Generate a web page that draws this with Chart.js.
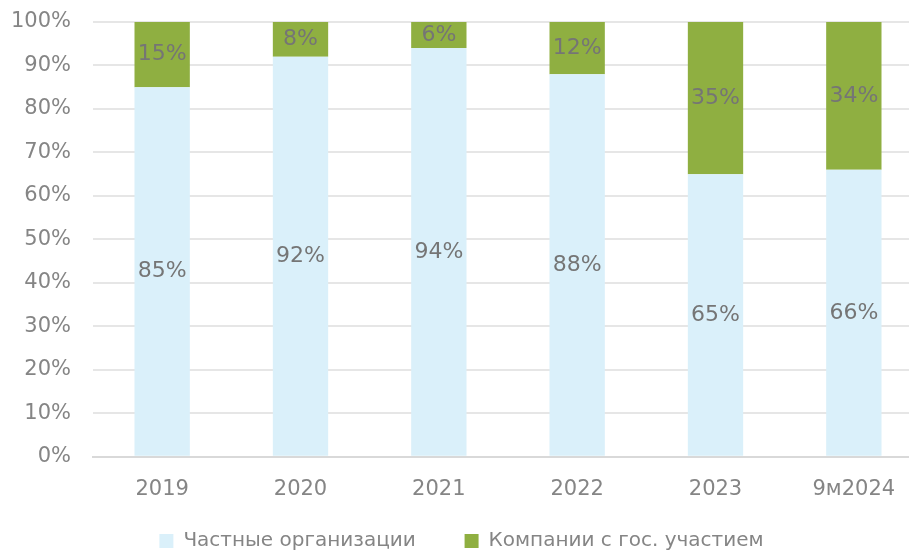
<!DOCTYPE html>
<html>
<head>
<meta charset="utf-8">
<script src="https://cdn.jsdelivr.net/npm/chart.js@4"></script>
<style>
  html, body { margin: 0; padding: 0; background: #fff; overflow: hidden; }
  #wrap { width: 923px; height: 561px; }
</style>
</head>
<body>
<div id="wrap"><canvas id="shareChart"></canvas></div>
<script>
var categories = ['2019', '2020', '2021', '2022', '2023', '9м2024'];
var privateShare = [85, 92, 94, 88, 65, 66];
var stateShare = [15, 8, 6, 12, 35, 34];
var seriesNames = ['Частные организации', 'Компании с гос. участием'];

var fontFamily = '"DejaVu Sans", sans-serif';

// подписи значений по центру сегментов
var valueLabels = {
    id: 'valueLabels',
    afterDatasetsDraw: function (chart) {
        var ctx = chart.ctx;
        ctx.save();
        ctx.font = '22px ' + fontFamily;
        ctx.fillStyle = '#757575';
        ctx.textAlign = 'center';
        ctx.textBaseline = 'middle';
        chart.data.datasets.forEach(function (ds, i) {
            chart.getDatasetMeta(i).data.forEach(function (bar, j) {
                var y = (bar.y + bar.base) / 2;
                ctx.fillText(ds.data[j] + '%', bar.x, y);
            });
        });
        ctx.restore();
    }
};

var shareChart = new Chart(document.getElementById('shareChart'), {
    type: 'bar',
    data: {
        labels: categories,
        datasets: [{
            label: seriesNames[0],
            data: privateShare,
            backgroundColor: '#daf0fa',
            barPercentage: 0.4,
            categoryPercentage: 1
        }, {
            label: seriesNames[1],
            data: stateShare,
            backgroundColor: '#8faf41',
            barPercentage: 0.4,
            categoryPercentage: 1
        }]
    },
    options: {
        responsive: true,
        maintainAspectRatio: false,
        animation: false,
        layout: { padding: { top: 22, right: 0, bottom: 0, left: 0 } },
        plugins: {
            tooltip: { enabled: false },
            legend: {
                position: 'bottom',
                labels: {
                    boxWidth: 14,
                    boxHeight: 14,
                    padding: 17,
                    color: '#858585',
                    font: { family: fontFamily, size: 20 },
                    generateLabels: function (chart) {
                        var items = Chart.defaults.plugins.legend.labels.generateLabels(chart);
                        items[0].text = items[0].text + '     ';
                        return items;
                    }
                }
            }
        },
        scales: {
            x: {
                stacked: true,
                grid: { display: false },
                border: { color: '#d9d9d9', width: 2 },
                ticks: { color: '#858585', padding: 12, font: { family: fontFamily, size: 21 } }
            },
            y: {
                stacked: true,
                min: 0,
                max: 100,
                grid: { color: '#e6e6e6', lineWidth: 2, drawTicks: false },
                border: { display: false },
                afterFit: function (scale) {
                    scale.width = 93;
                    scale.paddingTop = 0;
                    scale.paddingBottom = 0;
                },
                ticks: {
                    stepSize: 10,
                    padding: 22,
                    color: '#858585',
                    font: { family: fontFamily, size: 21 },
                    callback: function (v) { return v + '%'; }
                }
            }
        }
    },
    plugins: [valueLabels]
});
</script>
</body>
</html>
